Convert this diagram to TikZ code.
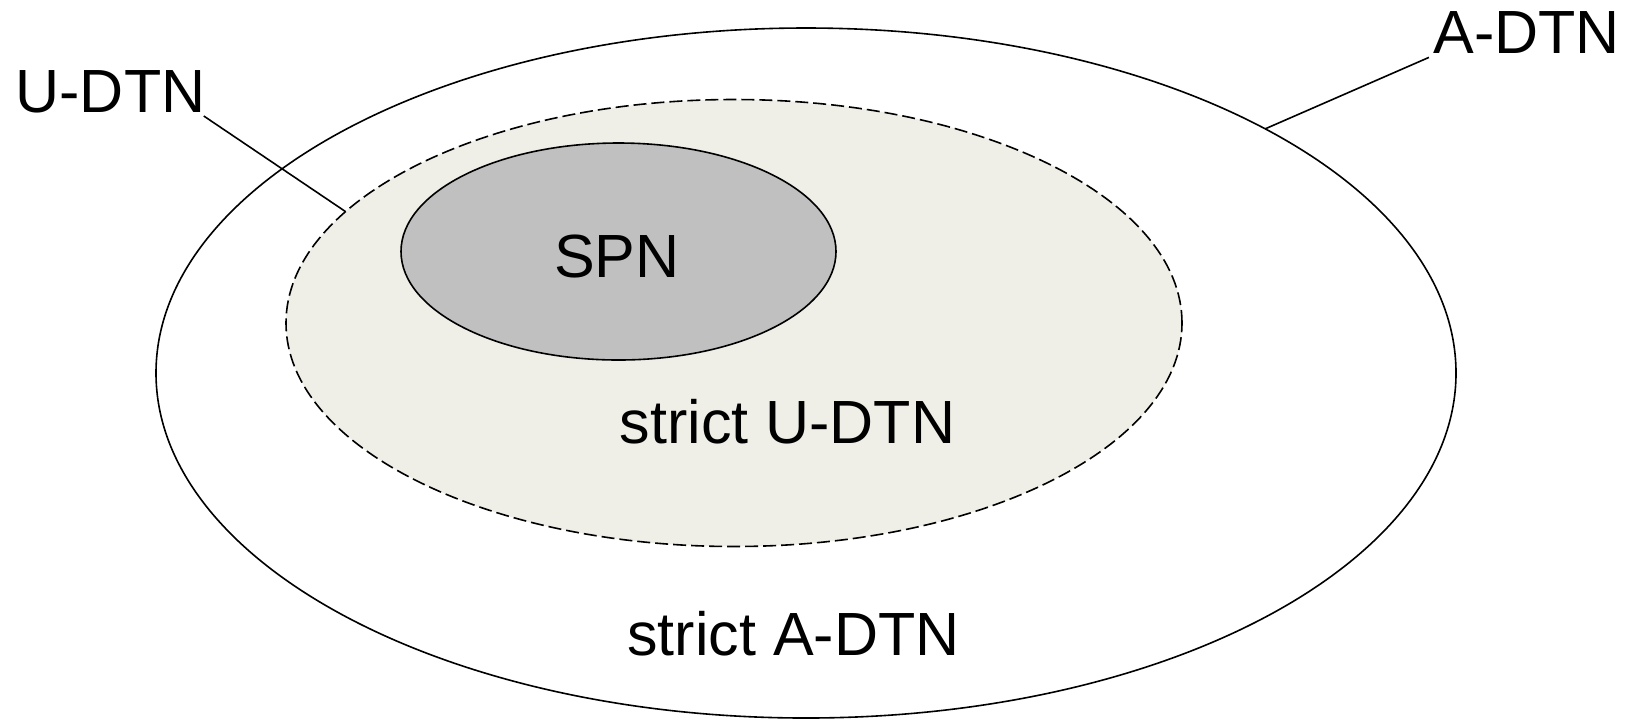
\documentclass[tikz,border=0pt]{standalone}
\usepackage{fontspec}
\setmainfont{Liberation Sans}
\usetikzlibrary{shapes.geometric}
\definecolor{udtnfill}{RGB}{239,239,231}
\definecolor{spnfill}{RGB}{192,192,192}
\tikzset{
  setbox/.style={draw,ellipse,inner sep=0pt,outer sep=0pt,line width=0.8pt},
  lbl/.style={inner sep=0pt,anchor=base,font=\fontsize{30.5}{36}\selectfont},
}
\begin{document}
\begin{tikzpicture}[x=0.5pt,y=-0.5pt]
    \useasboundingbox (0,0) rectangle (1626,720);
    \node[setbox,fill=white,minimum width=650pt,minimum height=345pt](adtnset) at (806,373){};
    \node[setbox,dashed,dash pattern=on 6.5pt off 2.5pt,fill=udtnfill,minimum width=448pt,minimum height=223.5pt](udtnset) at (734,323){};
    \node[setbox,fill=spnfill,minimum width=217.5pt,minimum height=108.5pt](spnset) at (618.5,251.5){};
    % labels
    \node[lbl](spn) at (617,277){SPN};
    \node[lbl](sudtn) at (787.5,443){strict U-DTN};
    \node[lbl](sadtn) at (793.5,655){strict A-DTN};
    \node[lbl](udtn) at (110.5,112){U-DTN};
    \node[lbl](adtn) at (1526.5,53){A-DTN};
    % pointers
    \draw[line width=0.8pt]([xshift=-1pt,yshift=-1.5pt]udtn.south east)--(udtnset.164.4);
    \draw[line width=0.8pt]([xshift=-2pt,yshift=-2pt]adtn.south west)--(adtnset.28.7);
\end{tikzpicture}
\end{document}
